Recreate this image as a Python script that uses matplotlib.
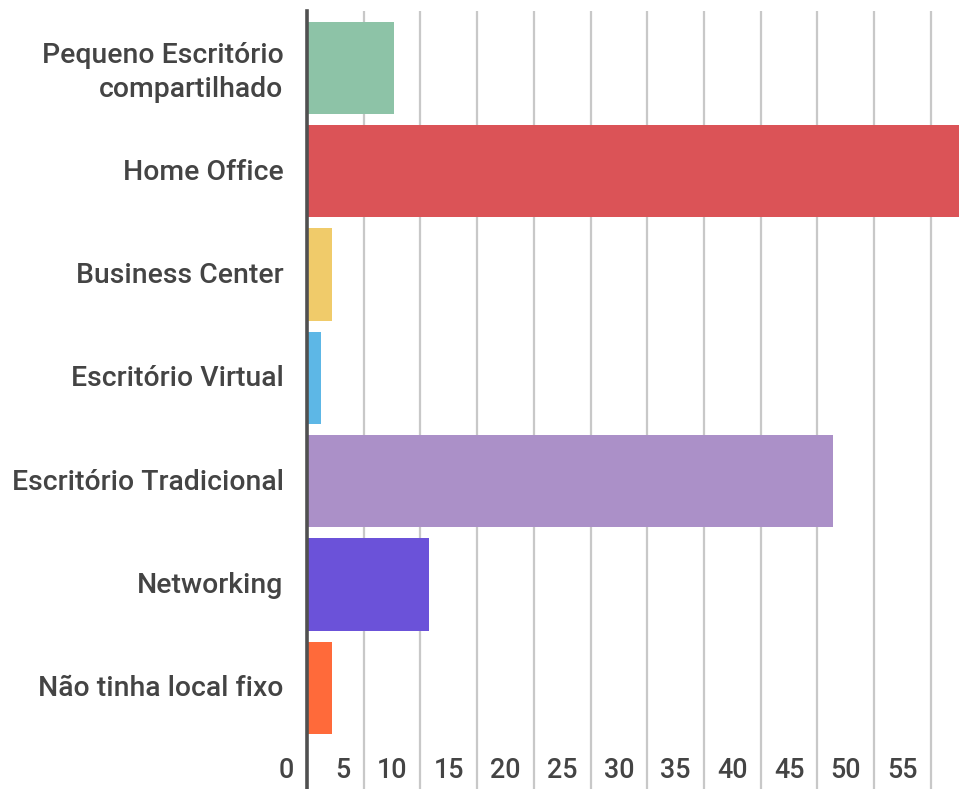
import matplotlib
matplotlib.use("Agg")
import matplotlib.pyplot as plt
import matplotlib.transforms as mtransforms

categories = ["Pequeno Escritório\ncompartilhado", "Home Office", "Business Center",
              "Escritório Virtual", "Escritório Tradicional", "Networking",
              "Não tinha local fixo"]
values = [7.7, 60, 2.2, 1.2, 46.4, 10.8, 2.2]
colors = ["#8dc3a7", "#db5357", "#f0cb6a", "#5db7e6", "#ab90c8", "#6b52d9", "#ff6a3a"]
xticks = [0, 5, 10, 15, 20, 25, 30, 35, 40, 45, 50, 55]

plt.rcParams['font.family'] = ['Roboto', 'DejaVu Sans']
W, H = 959, 789
fig = plt.figure(figsize=(W / 100, H / 100), dpi=100)
ax = fig.add_axes([307 / W, 0, (W - 307) / W, (H - 11) / H])

ypos = list(range(len(categories)))
ax.barh(ypos, values, height=0.895, color=colors, zorder=2)

ax.set_xlim(0, (W - 307) / 11.34)
ax.set_ylim(6.98, -0.55)

for t in xticks[1:]:
    ax.axvline(t, color="#c8c8c8", lw=1.6, zorder=1)
ax.axvline(0, color="#505050", lw=2.6, zorder=3, clip_on=False)

for s in ax.spines.values():
    s.set_visible(False)

ax.set_xticks([])
ax.set_yticks(ypos)
ax.set_yticklabels(categories, fontsize=20.4, color="#444444", fontweight="medium",
                   ha="right", linespacing=1.36)
ax.tick_params(axis="y", length=0, pad=17)
for lbl in ax.get_yticklabels():
    lbl.set_transform(lbl.get_transform() +
                      mtransforms.ScaledTranslation(0, 2 / 100, fig.dpi_scale_trans))

off = mtransforms.ScaledTranslation(-13 / 100, 0, fig.dpi_scale_trans)
tr = ax.get_xaxis_transform() + off
for t in xticks:
    ax.text(t, (H - 771) / (H - 11), str(t), transform=tr, ha="right", va="center",
            fontsize=19.4, color="#444444", fontweight="medium")

fig.savefig("out.png", dpi=100)
